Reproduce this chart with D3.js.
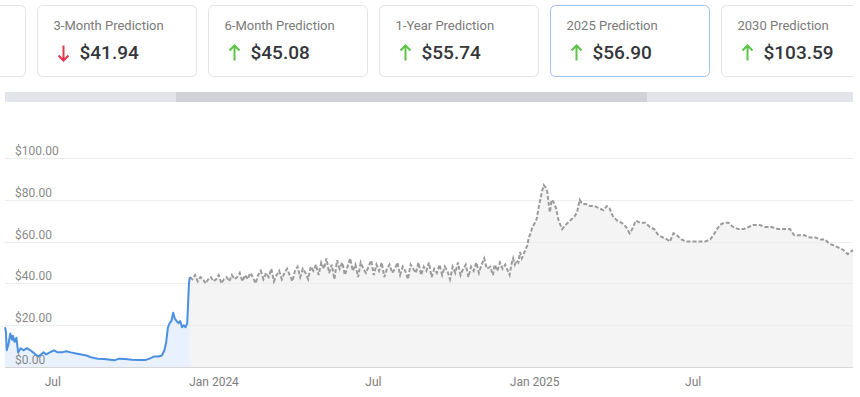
<!DOCTYPE html>
<html>
<head>
<meta charset="utf-8">
<script src="https://cdn.jsdelivr.net/npm/d3@7"></script>
<style>
  html, body { margin: 0; padding: 0; background: #fff; }
  svg { display: block; font-family: Roboto, "Noto Sans", sans-serif; }
</style>
</head>
<body>
<div id="chart"></div>
<script>
// prediction cards
const cardTitles = ['', '3-Month Prediction', '6-Month Prediction', '1-Year Prediction', '2025 Prediction', '2030 Prediction'];
const cardValues = ['', '$41.94', '$45.08', '$55.74', '$56.90', '$103.59'];
const cardDirs = ['', 'down', 'up', 'up', 'up', 'up'];
const activeCard = 4;

// axis ticks
const yTicks = [0, 20, 40, 60, 80, 100];
const xTickDates = ['2023-07-01', '2024-01-01', '2024-07-01', '2025-01-01', '2025-07-01'];
const xTickLabels = ['Jul', 'Jan 2024', 'Jul', 'Jan 2025', 'Jul'];

// historical price (blue)
const histData = [
  ['2023-05-08', 19], ['2023-05-09', 17], ['2023-05-10', 8], ['2023-05-12', 11], ['2023-05-14', 16],
  ['2023-05-16', 13], ['2023-05-17', 15], ['2023-05-19', 12], ['2023-05-21', 14], ['2023-05-23', 7],
  ['2023-05-26', 9], ['2023-05-29', 8], ['2023-06-02', 9], ['2023-06-06', 8], ['2023-06-09', 7],
  ['2023-06-12', 6], ['2023-06-15', 5], ['2023-06-18', 6], ['2023-06-21', 7], ['2023-06-24', 6],
  ['2023-06-28', 7], ['2023-07-03', 8], ['2023-07-07', 7], ['2023-07-12', 7], ['2023-07-17', 7.5],
  ['2023-07-22', 7], ['2023-07-28', 6.5], ['2023-08-03', 6], ['2023-08-09', 5.5], ['2023-08-15', 4.5],
  ['2023-08-22', 4], ['2023-08-29', 3.8], ['2023-09-05', 3.5], ['2023-09-10', 3.2], ['2023-09-15', 4],
  ['2023-09-22', 3.8], ['2023-09-30', 3.5], ['2023-10-08', 3.4], ['2023-10-15', 3.3], ['2023-10-20', 4],
  ['2023-10-25', 5], ['2023-10-30', 5], ['2023-11-03', 5.5], ['2023-11-06', 8], ['2023-11-08', 12],
  ['2023-11-10', 19], ['2023-11-12', 21], ['2023-11-14', 22], ['2023-11-16', 26], ['2023-11-18', 23],
  ['2023-11-20', 22], ['2023-11-22', 21], ['2023-11-24', 22], ['2023-11-26', 19], ['2023-11-28', 20],
  ['2023-11-30', 19], ['2023-12-02', 21], ['2023-12-04', 40], ['2023-12-05', 43]
];

// forecast, noisy part: one value every 3 days from 2023-12-05
const noisyStart = '2023-12-05';
const noisyStepDays = 3;
const noisyValues = [
  43, 42, 44, 41, 43, 42, 40, 42,
  43, 41, 42, 44, 40, 42, 43, 41, 44, 42,
  43, 45, 41, 44, 42, 45, 43, 40, 44, 46,
  42, 45, 43, 47, 41, 44, 46, 42, 45, 47,
  44, 41, 46, 48, 43, 47, 45, 42, 48, 46,
  49, 44, 50, 47, 52, 45, 49, 42, 51, 47,
  50, 44, 48, 52, 46, 49, 43, 50, 47, 45,
  48, 51, 44, 49, 46, 50, 43, 47, 49, 45,
  47, 50, 44, 48, 46, 42, 49, 47, 45, 50,
  44, 48, 46, 50, 43, 47, 45, 49, 44, 48,
  46, 42, 48, 45, 50, 44, 47, 49, 43, 48,
  46, 50, 45, 49, 52, 47
];

// forecast, trend part
const trendData = [
  ['2024-11-12', 48], ['2024-11-15', 44], ['2024-11-17', 49], ['2024-11-20', 46], ['2024-11-23', 50],
  ['2024-11-26', 47], ['2024-11-29', 49], ['2024-12-02', 46], ['2024-12-04', 44], ['2024-12-06', 49],
  ['2024-12-08', 52], ['2024-12-10', 49], ['2024-12-12', 51], ['2024-12-14', 50], ['2024-12-16', 55],
  ['2024-12-18', 52], ['2024-12-20', 54], ['2024-12-22', 56], ['2024-12-24', 58], ['2024-12-26', 62],
  ['2024-12-28', 64], ['2024-12-30', 67], ['2025-01-02', 69], ['2025-01-04', 71], ['2025-01-06', 76],
  ['2025-01-08', 80], ['2025-01-10', 84], ['2025-01-12', 87], ['2025-01-14', 86], ['2025-01-16', 84],
  ['2025-01-18', 77], ['2025-01-19', 74], ['2025-01-21', 80], ['2025-01-23', 79], ['2025-01-26', 76],
  ['2025-01-29', 70], ['2025-02-02', 66], ['2025-02-06', 68], ['2025-02-11', 70], ['2025-02-16', 72],
  ['2025-02-19', 74], ['2025-02-22', 80], ['2025-02-25', 78], ['2025-03-01', 78], ['2025-03-06', 77],
  ['2025-03-11', 77], ['2025-03-16', 76], ['2025-03-21', 75], ['2025-03-25', 77], ['2025-03-28', 76],
  ['2025-04-01', 72], ['2025-04-06', 70], ['2025-04-11', 69], ['2025-04-16', 67], ['2025-04-20', 64],
  ['2025-04-23', 66], ['2025-04-27', 70], ['2025-05-02', 69], ['2025-05-08', 69], ['2025-05-13', 67],
  ['2025-05-18', 66], ['2025-05-23', 63], ['2025-05-28', 62], ['2025-06-02', 61], ['2025-06-05', 60],
  ['2025-06-09', 64], ['2025-06-13', 63], ['2025-06-18', 61], ['2025-06-24', 60], ['2025-07-01', 60],
  ['2025-07-08', 60], ['2025-07-15', 60], ['2025-07-21', 61], ['2025-07-26', 64], ['2025-08-01', 68],
  ['2025-08-06', 69], ['2025-08-11', 69], ['2025-08-16', 67], ['2025-08-22', 66], ['2025-08-28', 66],
  ['2025-09-03', 67], ['2025-09-08', 68], ['2025-09-15', 68], ['2025-09-22', 67], ['2025-09-29', 67],
  ['2025-10-06', 66], ['2025-10-13', 66], ['2025-10-20', 66], ['2025-10-25', 63], ['2025-10-31', 63],
  ['2025-11-06', 63], ['2025-11-12', 62], ['2025-11-18', 62], ['2025-11-24', 61], ['2025-11-29', 61],
  ['2025-12-04', 59], ['2025-12-10', 58], ['2025-12-15', 57], ['2025-12-20', 56], ['2025-12-25', 54],
  ['2025-12-31', 56]
];

const W = 860, H = 397;
const parse = d3.utcParse('%Y-%m-%d');

const svg = d3.select('#chart').append('svg')
  .attr('width', W)
  .attr('height', H);

// ---- cards ----
const cardW = 159, cardH = 71, cardPitch = 171, cardX0 = -134, cardY = 5;
const cardRows = cardTitles.map((t, i) => ({ i, title: t, value: cardValues[i], dir: cardDirs[i] }));

svg.append('clipPath').attr('id', 'cardClip')
  .append('rect').attr('x', 0).attr('y', 0).attr('width', 853).attr('height', 90);

const cards = svg.append('g').attr('clip-path', 'url(#cardClip)')
  .selectAll('g.card')
  .data(cardRows)
  .join('g')
  .attr('class', 'card')
  .attr('transform', d => `translate(${cardX0 + d.i * cardPitch + 0.5},${cardY + 0.5})`);

cards.append('rect')
  .attr('width', cardW)
  .attr('height', cardH)
  .attr('rx', 5)
  .attr('fill', '#fff')
  .attr('stroke', d => d.i === activeCard ? '#9fc3ee' : '#e4e4e6');

cards.append('text')
  .attr('x', 16)
  .attr('y', 24)
  .attr('font-size', 13)
  .attr('fill', '#7a7a7a')
  .text(d => d.title);

cards.filter(d => d.dir !== '')
  .append('path')
  .attr('d', d => d.dir === 'up'
    ? 'M26,40 L26,55 M21,45 L26,40 L31,45'
    : 'M26,40 L26,55 M21,50 L26,55 L31,50')
  .attr('fill', 'none')
  .attr('stroke-width', 2)
  .attr('stroke', d => d.dir === 'up' ? '#5cc447' : '#e8344a');

cards.append('text')
  .attr('x', 42)
  .attr('y', 53)
  .attr('font-size', 19)
  .attr('font-weight', 500)
  .attr('fill', '#34363b')
  .text(d => d.value);

// ---- scrollbar ----
svg.append('rect').attr('x', 5).attr('y', 92).attr('width', 848).attr('height', 10).attr('fill', '#e4e5ea');
svg.append('rect').attr('x', 176).attr('y', 92).attr('width', 471).attr('height', 10).attr('fill', '#d1d2d7');

// ---- chart ----
const x = d3.scaleUtc()
  .domain([parse('2023-05-08'), parse('2025-12-31')])
  .range([5, 853]);
const y = d3.scaleLinear().domain([0, 100]).range([367, 158]);

const hist = histData.map(d => ({ date: parse(d[0]), value: d[1] }));
const noisy = noisyValues.map((v, i) => ({ date: d3.utcDay.offset(parse(noisyStart), i * noisyStepDays), value: v }));
const forecast = noisy.concat(trendData.map(d => ({ date: parse(d[0]), value: d[1] })));

const area = d3.area().x(d => x(d.date)).y0(y(0)).y1(d => y(d.value));
const line = d3.line().x(d => x(d.date)).y(d => y(d.value));

svg.append('path').datum(hist).attr('d', area).attr('fill', '#e8f1fd');
svg.append('path').datum(forecast).attr('d', area).attr('fill', '#f4f4f4');

// grid + y labels
const grid = svg.append('g');
grid.selectAll('line')
  .data(yTicks.filter(t => t > 0))
  .join('line')
  .attr('x1', 5).attr('x2', 853)
  .attr('y1', d => Math.round(y(d)) + 0.5)
  .attr('y2', d => Math.round(y(d)) + 0.5)
  .attr('stroke', '#ededed');

svg.append('line')
  .attr('x1', 5).attr('x2', 853)
  .attr('y1', Math.round(y(0)) + 0.5).attr('y2', Math.round(y(0)) + 0.5)
  .attr('stroke', '#d6d6d6');

svg.append('path').datum(forecast).attr('d', line)
  .attr('fill', 'none')
  .attr('stroke', '#9b9b9b')
  .attr('stroke-width', 2)
  .attr('stroke-dasharray', '4,2');

svg.append('path').datum(hist).attr('d', line)
  .attr('fill', 'none')
  .attr('stroke', '#4a8fe2')
  .attr('stroke-width', 2)
  .attr('stroke-linejoin', 'round');

grid.selectAll('text')
  .data(yTicks)
  .join('text')
  .attr('x', 15)
  .attr('y', d => y(d) - 3)
  .attr('font-size', 12)
  .attr('fill', '#8a8a8a')
  .text(d => '$' + d3.format('.2f')(d));

// x axis
const xAxis = d3.axisBottom(x)
  .tickValues(xTickDates.map(parse))
  .tickFormat((d, i) => xTickLabels[i])
  .tickSize(0)
  .tickPadding(10);

svg.append('g')
  .attr('transform', `translate(0,${y(0)})`)
  .call(xAxis)
  .call(g => g.select('.domain').remove())
  .call(g => g.selectAll('text')
    .attr('font-size', 12)
    .attr('font-family', 'Roboto, sans-serif')
    .attr('fill', '#7d7d7d'));
</script>
</body>
</html>
